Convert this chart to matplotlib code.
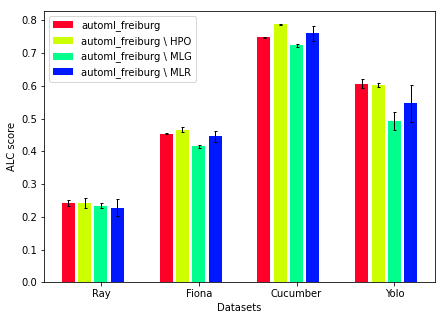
import numpy as np
import matplotlib
matplotlib.use("Agg")
import matplotlib.pyplot as plt

datasets = ["Ray", "Fiona", "Cucumber", "Yolo"]
labels = ["automl_freiburg", r"automl_freiburg \ HPO",
          r"automl_freiburg \ MLG", r"automl_freiburg \ MLR"]

# mean ALC score per dataset, one list per method
full = [0.241, 0.454, 0.748, 0.607]
no_hpo = [0.241, 0.466, 0.788, 0.603]
no_mlg = [0.234, 0.415, 0.724, 0.492]
no_mlr = [0.228, 0.446, 0.760, 0.546]

# std
full_err = [0.009, 0.001, 0.002, 0.014]
no_hpo_err = [0.015, 0.008, 0.002, 0.007]
no_mlg_err = [0.007, 0.004, 0.005, 0.027]
no_mlr_err = [0.025, 0.017, 0.024, 0.055]

means = [full, no_hpo, no_mlg, no_mlr]
errs = [full_err, no_hpo_err, no_mlg_err, no_mlr_err]

fig = plt.figure(figsize=(445 / 72, 320 / 72), dpi=72)
ax = fig.add_subplot(111)
fig.subplots_adjust(left=0.099, right=0.9775, top=0.9666, bottom=0.118)

ind = np.arange(len(datasets))
step = 1 / 6
colors = plt.cm.gist_rainbow(np.arange(4) / 4)

for i in range(4):
    ax.bar(ind + i * step, means[i], 0.133, yerr=errs[i], capsize=1.5,
           color=colors[i], label=labels[i], error_kw={"elinewidth": 1})

ax.set_xticks(ind + 2 * step)
ax.set_xticklabels(datasets)
ax.set_xlabel("Datasets")
ax.set_ylabel("ALC score")
ax.legend(loc="upper left")

fig.savefig("out.png", dpi=72)
